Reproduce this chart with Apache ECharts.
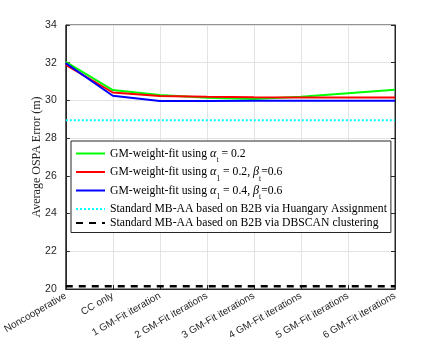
<!DOCTYPE html>
<html><head><meta charset="utf-8">
<script src="https://cdn.jsdelivr.net/npm/echarts@6/dist/echarts.min.js"></script>
<style>html,body{margin:0;padding:0;background:#fff}#c{width:436px;height:344px}</style>
</head><body><div id="c"></div>
<script>
const categories = ['Noncooperative','CC only','1 GM-Fit iteration','2 GM-Fit iterations','3 GM-Fit iterations','4 GM-Fit iterations','5 GM-Fit iterations','6 GM-Fit iterations'];
const greenVals = [32.05, 30.55, 30.29, 30.14, 30.08, 30.19, 30.38, 30.57];
const redVals   = [31.88, 30.42, 30.24, 30.19, 30.17, 30.16, 30.15, 30.15];
const blueVals  = [31.98, 30.25, 29.97, 29.97, 29.98, 29.98, 29.98, 29.98];
const cyanVals  = [28.95, 28.95, 28.95, 28.95, 28.95, 28.95, 28.95, 28.95];
const blackVals = [20.15, 20.15, 20.15, 20.15, 20.15, 20.15, 20.15, 20.15];
const yTicks = [20, 22, 24, 26, 28, 30, 32, 34];
const seriesNames = ['g','r','b','c','k'];
const legendTexts = {
  g: 'GM-weight-fit using {i|α}{s|t}{t| = 0.2}',
  r: 'GM-weight-fit using {i|α}{s|1}{t| = 0.2, }{i|β}{s|t}{t|=0.6}',
  b: 'GM-weight-fit using {i|α}{s|1}{t| = 0.4, }{i|β}{s|t}{t|=0.6}',
  c: 'Standard MB-AA based on B2B via Huangary Assignment',
  k: 'Standard MB-AA based on B2B via DBSCAN clustering'
};
const chart = echarts.init(document.getElementById('c'), null, {renderer:'canvas'});
const serif = '"Liberation Serif", "DejaVu Serif", serif';
const sans = '"Liberation Sans", Arial, sans-serif';
function mk(name, data, color, type, width){
  return {name, type:'line', data, showSymbol:false, symbol:'none', silent:true, animation:false,
    lineStyle:{color, width, type}, itemStyle:{color}, z: 3};
}
const FS = 11.7;
chart.setOption({
  animation:false,
  grid:{left:60, right:41, top:25, bottom:55, show:true, borderColor:'#262626', borderWidth:1, backgroundColor:'transparent'},
  xAxis:{type:'category', data:categories, boundaryGap:false,
    axisLine:{lineStyle:{color:'#262626', width:1}},
    axisTick:{inside:true, length:4, lineStyle:{color:'#262626'}, alignWithLabel:true},
    axisLabel:{rotate:30, fontFamily:sans, fontSize:10, color:'#262626', margin:6, interval:0},
    splitLine:{show:true, lineStyle:{color:'#e3e3e3', width:1}}},
  yAxis:[{type:'value', min:yTicks[0], max:yTicks[yTicks.length-1], interval:2,
    name:'Average OSPA Error (m)', nameLocation:'middle', nameGap:23, nameMoveOverlap:false,
    nameTextStyle:{fontFamily:serif, fontSize:12, color:'#262626'},
    axisLine:{show:true, lineStyle:{color:'#262626', width:1}},
    axisTick:{show:true, inside:true, length:4, lineStyle:{color:'#262626'}},
    axisLabel:{fontFamily:sans, fontSize:10.5, color:'#262626', margin:9},
    splitLine:{show:true, lineStyle:{color:'#e3e3e3', width:1}}},
   {type:'value', position:'right', min:yTicks[0], max:yTicks[yTicks.length-1], interval:2,
    axisLine:{show:true, lineStyle:{color:'#262626', width:1}},
    axisTick:{show:true, inside:true, length:4, lineStyle:{color:'#262626'}},
    axisLabel:{show:false}, splitLine:{show:false}}],
  legend:{orient:'vertical', left:71, top:141, itemWidth:29, itemHeight:12, itemGap:1,
    padding:[6,4,3,4], borderColor:'#262626', borderWidth:1, backgroundColor:'#fff',
    itemStyle:{opacity:0, borderWidth:0},
    data:seriesNames, formatter:n=>legendTexts[n], selectedMode:false,
    textStyle:{fontFamily:serif, fontSize:FS, color:'#000', lineHeight:13,
      rich:{
        t:{fontFamily:serif, fontSize:FS, color:'#000', verticalAlign:'middle'},
        i:{fontFamily:serif, fontSize:FS+0.5, fontStyle:'italic', color:'#000', verticalAlign:'middle'},
        s:{fontFamily:serif, fontSize:7.5, color:'#000', padding:[14,0,0,0]}
      }}},
  series:[
    mk('g', greenVals, '#00ff00', 'solid', 2),
    mk('r', redVals, '#ff0000', 'solid', 2),
    mk('b', blueVals, '#0000ff', 'solid', 2),
    mk('c', cyanVals, '#00ffff', 'dotted', 2),
    mk('k', blackVals, '#000000', [7,6], 2.5)
  ]
});
</script></body></html>
